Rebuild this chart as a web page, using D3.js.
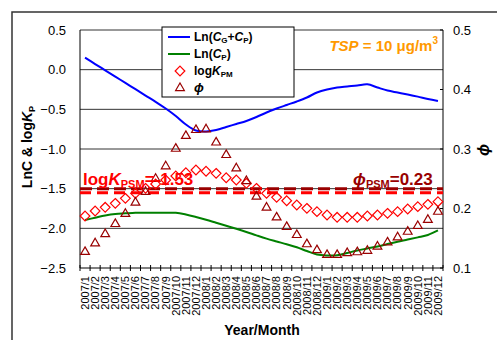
<!DOCTYPE html>
<html><head><meta charset="utf-8">
<script src="https://cdn.jsdelivr.net/npm/d3@7"></script>
<style>body{margin:0;background:#fff}svg{display:block;font-family:Arial,"Liberation Sans",sans-serif}</style>
</head><body><svg id="c" width="497" height="340"></svg>
<script>
const months = ["2007/1","2007/2","2007/3","2007/4","2007/5","2007/6","2007/7","2007/8","2007/9","2007/10","2007/11","2007/12",
"2008/1","2008/2","2008/3","2008/4","2008/5","2008/6","2008/7","2008/8","2008/9","2008/10","2008/11","2008/12",
"2009/1","2009/2","2009/3","2009/4","2009/5","2009/6","2009/7","2009/8","2009/9","2009/10","2009/11","2009/12"];
const lnCGCP = [0.151,0.071,-0.008,-0.087,-0.167,-0.246,-0.326,-0.405,-0.49,-0.584,-0.691,-0.767,
-0.779,-0.76,-0.723,-0.685,-0.647,-0.597,-0.54,-0.49,-0.445,-0.401,-0.351,-0.288,
-0.25,-0.225,-0.212,-0.2,-0.185,-0.225,-0.263,-0.288,-0.313,-0.34,-0.37,-0.395];
const lnCP = [-1.895,-1.866,-1.838,-1.819,-1.811,-1.804,-1.803,-1.803,-1.803,-1.804,-1.826,-1.857,
-1.892,-1.93,-1.968,-2.006,-2.046,-2.089,-2.13,-2.166,-2.201,-2.239,-2.286,-2.33,
-2.342,-2.34,-2.311,-2.279,-2.254,-2.229,-2.198,-2.168,-2.142,-2.114,-2.084,-2.027];
const logKPM = [-1.845,-1.782,-1.735,-1.685,-1.622,-1.559,-1.496,-1.441,-1.391,-1.34,-1.299,-1.265,
-1.28,-1.307,-1.362,-1.391,-1.433,-1.496,-1.559,-1.609,-1.652,-1.706,-1.748,-1.79,
-1.832,-1.861,-1.861,-1.861,-1.845,-1.832,-1.811,-1.79,-1.756,-1.727,-1.698,-1.664];
const phi = [0.127,0.1415,0.157,0.174,0.191,0.21,0.228,0.25,0.271,0.3005,0.322,0.332,
0.333,0.311,0.29,0.2675,0.246,0.22,0.2015,0.185,0.169,0.1555,0.14,0.13,
0.122,0.122,0.125,0.1265,0.129,0.136,0.143,0.1516,0.161,0.1706,0.181,0.1946];
const leftTicks = [0.5,0.0,-0.5,-1.0,-1.5,-2.0,-2.5];
const rightTicks = [0.5,0.4,0.3,0.2,0.1];
const logKPSM = -1.53, phiPSM = 0.23;
const logKLine = -1.55, phiLine = 0.233;

const svg = d3.select("#c");
const L=80,R=443,T=30,B=268;
const x = d3.scaleBand().domain(months).range([L,R]);
const cx = m => x(m)+x.bandwidth()/2;
const yL = d3.scaleLinear().domain([-2.5,0.5]).range([B,T]);
const yR = d3.scaleLinear().domain([0.1,0.5]).range([B,T]);

// outer frame
svg.append("rect").attr("x",12).attr("y",12).attr("width",500).attr("height",340)
  .attr("fill","none").attr("stroke","#333").attr("stroke-width",1.5);

// gridlines
svg.append("g").selectAll("line").data(leftTicks.filter(d=>d>-2.5)).join("line")
  .attr("x1",L).attr("x2",R).attr("y1",d=>yL(d)).attr("y2",d=>yL(d))
  .attr("stroke","#333").attr("stroke-width",1);

// axes lines
svg.append("line").attr("x1",L).attr("x2",L).attr("y1",T).attr("y2",B).attr("stroke","#000");
svg.append("line").attr("x1",R).attr("x2",R).attr("y1",T).attr("y2",B).attr("stroke","#000");
svg.append("line").attr("x1",L).attr("x2",R).attr("y1",B).attr("y2",B).attr("stroke","#000");

// x ticks at boundaries
const bounds = months.map(m=>x(m)).concat([R]);
svg.append("g").selectAll("line").data(bounds).join("line")
  .attr("x1",d=>d).attr("x2",d=>d).attr("y1",B-3).attr("y2",B+3).attr("stroke","#000");
// x labels
svg.append("g").selectAll("text").data(months).join("text")
  .attr("transform",d=>`translate(${cx(d)},276) rotate(-90)`)
  .attr("text-anchor","end").attr("dy","0.35em").attr("font-size",11).attr("fill","#000").text(d=>d);

// left tick labels
svg.append("g").selectAll("text").data(leftTicks).join("text")
  .attr("x",66).attr("y",d=>yL(d)).attr("dy","0.36em").attr("text-anchor","end")
  .attr("font-size",13).text(d=>d3.format(".1f")(d));
// right ticks
svg.append("g").selectAll("line").data(rightTicks).join("line")
  .attr("x1",R-3).attr("x2",R).attr("y1",d=>yR(d)).attr("y2",d=>yR(d)).attr("stroke","#000");
svg.append("g").selectAll("text").data(rightTicks).join("text")
  .attr("x",453).attr("y",d=>yR(d)).attr("dy","0.36em").attr("text-anchor","start")
  .attr("font-size",13).text(d=>d3.format(".1f")(d));

// titles
svg.append("text").attr("x",262).attr("y",335).attr("text-anchor","middle")
  .attr("font-size",14).attr("font-weight","bold").text("Year/Month");
const yt = svg.append("text").attr("transform","translate(32,147) rotate(-90)")
  .attr("text-anchor","middle").attr("font-size",14).attr("font-weight","bold");
yt.append("tspan").text("LnC & log");
yt.append("tspan").attr("font-style","italic").text("K");
yt.append("tspan").attr("font-size",9).attr("dy",3).text("P");
svg.append("text").attr("transform","translate(489,150) rotate(-90)")
  .attr("text-anchor","middle").attr("font-size",16).attr("font-weight","bold")
  .attr("font-style","italic").text("ϕ");

// dashed reference lines
svg.append("line").attr("x1",L).attr("x2",R).attr("y1",yR(phiLine)).attr("y2",yR(phiLine))
  .attr("stroke","#990000").attr("stroke-width",3).attr("stroke-dasharray","12,5");
svg.append("line").attr("x1",L).attr("x2",R).attr("y1",yL(logKLine)).attr("y2",yL(logKLine))
  .attr("stroke","#ff0000").attr("stroke-width",3).attr("stroke-dasharray","11,6");

// lines
const line = d3.line().x((d,i)=>cx(months[i])).y(d=>yL(d)).curve(d3.curveCatmullRom.alpha(0.5));
svg.append("path").datum(lnCGCP).attr("d",line).attr("fill","none").attr("stroke","#0000ff").attr("stroke-width",2);
svg.append("path").datum(lnCP).attr("d",line).attr("fill","none").attr("stroke","#008000").attr("stroke-width",2);

// markers
const diamond = d3.symbol().type(d3.symbolDiamond2).size(60);
svg.append("g").selectAll("path").data(logKPM).join("path")
  .attr("transform",(d,i)=>`translate(${cx(months[i])},${yL(d)})`)
  .attr("d",diamond).attr("fill","none").attr("stroke","#ff0000").attr("stroke-width",1.2);
const tri = d3.symbol().type(d3.symbolTriangle2).size(55);
svg.append("g").selectAll("path").data(phi).join("path")
  .attr("transform",(d,i)=>`translate(${cx(months[i])},${yR(d)})`)
  .attr("d",tri).attr("fill","none").attr("stroke","#990000").attr("stroke-width",1.2);

// labels
const kl = svg.append("text").attr("x",83).attr("y",185).attr("font-size",17).attr("font-weight","bold").attr("fill","#ff0000");
kl.append("tspan").text("log");
kl.append("tspan").attr("font-style","italic").text("K");
kl.append("tspan").attr("font-size",11).attr("dy",3).text("PSM");
kl.append("tspan").attr("dy",-3).text("=" + logKPSM.toFixed(2));
const pl = svg.append("text").attr("x",353).attr("y",185).attr("font-size",17).attr("font-weight","bold").attr("fill","#990000");
pl.append("tspan").attr("font-style","italic").text("ϕ");
pl.append("tspan").attr("font-size",11).attr("dy",3).text("PSM");
pl.append("tspan").attr("dy",-3).text("=" + phiPSM.toFixed(2));

const ts = svg.append("text").attr("x",438).attr("y",51).attr("text-anchor","end").attr("font-size",15).attr("font-weight","bold").attr("fill","#ff9900");
ts.append("tspan").attr("font-style","italic").text("TSP");
ts.append("tspan").text(" = 10 μg/m");
ts.append("tspan").attr("font-size",10).attr("dy",-7).text("3");

// legend
const lg = svg.append("g");
lg.append("rect").attr("x",162).attr("y",27).attr("width",132).attr("height",70).attr("fill","#fff").attr("stroke","#000");
const rows=[37,54,71,88];
lg.append("line").attr("x1",168).attr("x2",190).attr("y1",rows[0]).attr("y2",rows[0]).attr("stroke","#0000ff").attr("stroke-width",2);
lg.append("line").attr("x1",168).attr("x2",190).attr("y1",rows[1]).attr("y2",rows[1]).attr("stroke","#008000").attr("stroke-width",2);
lg.append("path").attr("transform",`translate(180,${rows[2]})`).attr("d",diamond).attr("fill","none").attr("stroke","#ff0000").attr("stroke-width",1.2);
lg.append("path").attr("transform",`translate(180,${rows[3]})`).attr("d",tri).attr("fill","none").attr("stroke","#990000").attr("stroke-width",1.2);
function lt(y){return lg.append("text").attr("x",194).attr("y",y+4).attr("font-size",12).attr("font-weight","bold");}
let t=lt(rows[0]); t.append("tspan").text("Ln("); t.append("tspan").attr("font-style","italic").text("C");
t.append("tspan").attr("font-size",8).attr("dy",2).text("G"); t.append("tspan").attr("dy",-2).text("+");
t.append("tspan").attr("font-style","italic").text("C"); t.append("tspan").attr("font-size",8).attr("dy",2).text("P");
t.append("tspan").attr("dy",-2).text(")");
t=lt(rows[1]); t.append("tspan").text("Ln("); t.append("tspan").attr("font-style","italic").text("C");
t.append("tspan").attr("font-size",8).attr("dy",2).text("P"); t.append("tspan").attr("dy",-2).text(")");
t=lt(rows[2]); t.append("tspan").text("log"); t.append("tspan").attr("font-style","italic").text("K");
t.append("tspan").attr("font-size",8).attr("dy",2).text("PM");
t=lt(rows[3]); t.append("tspan").attr("font-style","italic").attr("font-size",13).text("ϕ");
</script></body></html>
